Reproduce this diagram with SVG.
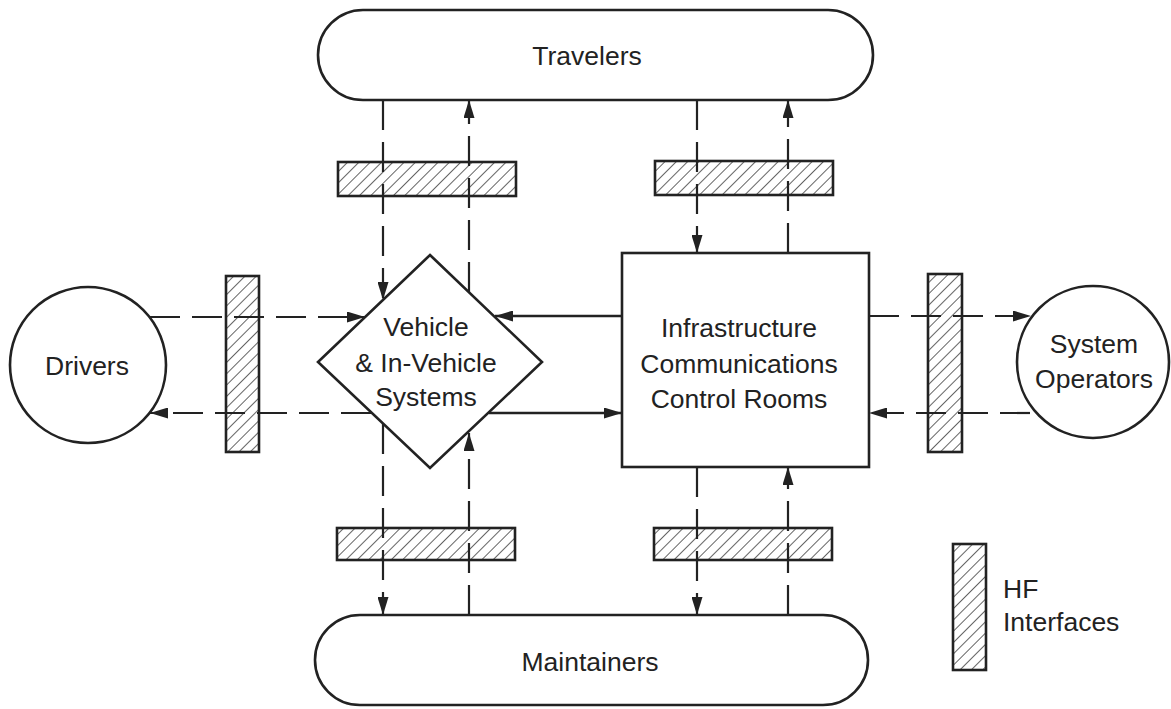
<svg xmlns="http://www.w3.org/2000/svg" width="1171" height="709" viewBox="0 0 1171 709">
<defs>
<pattern id="hatch" width="8" height="8" patternUnits="userSpaceOnUse" patternTransform="rotate(45)">
<line x1="0" y1="0" x2="0" y2="8" stroke="#222" stroke-width="1.4"/>
</pattern>
<marker id="arr" viewBox="0 0 18 11" refX="18" refY="5.5" markerWidth="18" markerHeight="11" markerUnits="userSpaceOnUse" orient="auto">
<path d="M0,0 L18,5.5 L0,11 Z" fill="#222"/>
</marker>
<style>
.shape{fill:#fff;stroke:#222;stroke-width:2.6}
.hf{fill:url(#hatch);stroke:#222;stroke-width:2.6}
.lbl{font-family:"Liberation Sans",Arial,sans-serif;font-size:26.5px;fill:#222;text-anchor:middle}
.dash{fill:none;stroke:#222;stroke-width:2.2;stroke-dasharray:30 12}
.solid{fill:none;stroke:#222;stroke-width:2.4}
</style>
</defs>
<rect width="1171" height="709" fill="#fff"/>

<g id="travelers">
<rect class="shape" x="318" y="10" width="555" height="90" rx="45" ry="45"/>
<text class="lbl" x="587" y="65">Travelers</text>
</g>
<g id="maintainers">
<rect class="shape" x="315" y="615" width="553" height="90" rx="45" ry="45"/>
<text class="lbl" x="590" y="671">Maintainers</text>
</g>
<g id="drivers">
<circle class="shape" cx="88" cy="365" r="78"/>
<text class="lbl" x="87" y="375">Drivers</text>
</g>
<g id="operators">
<circle class="shape" cx="1093" cy="362" r="76"/>
<text class="lbl" x="1094" y="353">System</text>
<text class="lbl" x="1094" y="388">Operators</text>
</g>
<g id="vehicle">
<polygon class="shape" points="430,255 542,362 430,468 318,362"/>
<text class="lbl" x="426" y="336">Vehicle</text>
<text class="lbl" x="426" y="372">&amp; In-Vehicle</text>
<text class="lbl" x="426" y="406">Systems</text>
</g>
<g id="infrastructure">
<rect class="shape" x="622" y="253" width="247" height="214"/>
<text class="lbl" x="739" y="337">Infrastructure</text>
<text class="lbl" x="739" y="373">Communications</text>
<text class="lbl" x="739" y="408">Control Rooms</text>
</g>
<g id="hf-top-left"><rect class="hf" x="338" y="162" width="178" height="34"/></g>
<g id="hf-top-right"><rect class="hf" x="655" y="161" width="178" height="34"/></g>
<g id="hf-bottom-left"><rect class="hf" x="337" y="528" width="178" height="32"/></g>
<g id="hf-bottom-right"><rect class="hf" x="654" y="528" width="178" height="32"/></g>
<g id="hf-left"><rect class="hf" x="226" y="276" width="33" height="176"/></g>
<g id="hf-right"><rect class="hf" x="928" y="274" width="34" height="178"/></g>
<g id="legend">
<rect class="hf" x="953" y="544" width="33" height="126"/>
<text class="lbl" x="1003" y="598" style="text-anchor:start">HF</text>
<text class="lbl" x="1003" y="631" style="text-anchor:start">Interfaces</text>
</g>

<g id="connectors">
<path class="dash" d="M150,317 H365" marker-end="url(#arr)"/>
<path class="dash" d="M371,413 H150" marker-end="url(#arr)"/>
<path class="solid" d="M622,316 H495" marker-end="url(#arr)"/>
<path class="solid" d="M489,413 H622" marker-end="url(#arr)"/>
<path class="dash" d="M869,316 H1031" marker-end="url(#arr)"/>
<path class="dash" d="M1030,413 H869" marker-end="url(#arr)"/>
<path class="dash" d="M383,100 V300" marker-end="url(#arr)"/>
<path class="dash" d="M383,424 V615" marker-end="url(#arr)"/>
<path class="dash" d="M469,615 V433" marker-end="url(#arr)"/>
<path class="dash" d="M469,292 V100" marker-end="url(#arr)"/>
<path class="dash" d="M697,100 V253" marker-end="url(#arr)"/>
<path class="dash" d="M697,467 V615" marker-end="url(#arr)"/>
<path class="dash" d="M788,615 V467" marker-end="url(#arr)"/>
<path class="dash" d="M788,253 V100" marker-end="url(#arr)"/>
</g>
</svg>
